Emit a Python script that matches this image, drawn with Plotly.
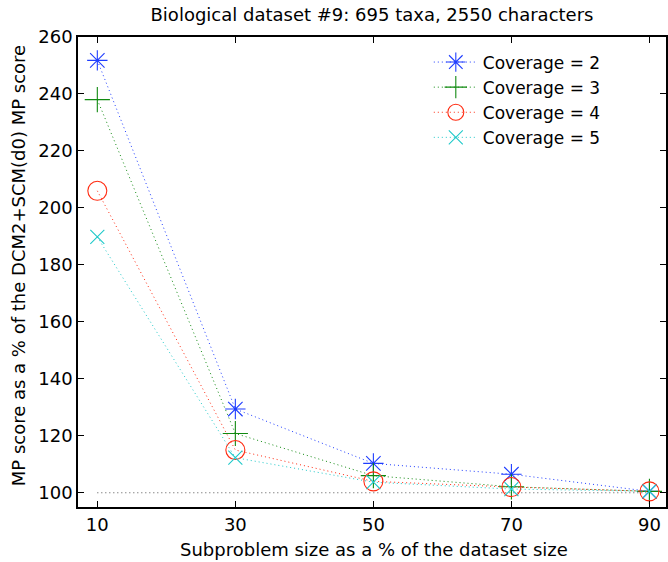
import plotly.graph_objects as go

# Subproblem sizes (% of dataset size)
subproblem_pct = [10, 30, 50, 70, 90]

# MP score relative to DCM2+SCM(d0), in percent, per coverage level
coverage_labels = ["Coverage = 2", "Coverage = 3", "Coverage = 4", "Coverage = 5"]
score_cov2 = [251.8, 129.4, 110.3, 106.5, 100.5]
score_cov3 = [238.0, 120.8, 106.0, 102.1, 100.5]
score_cov4 = [206.0, 115.0, 104.0, 102.0, 100.5]
score_cov5 = [189.8, 112.3, 103.7, 101.3, 100.5]
reference_level = [100, 100, 100, 100, 100]

y_ticks = [100, 120, 140, 160, 180, 200, 220, 240, 260]

series = [
    (score_cov2, "#1f3dff", "asterisk-open", 17),
    (score_cov3, "#118a11", "cross-thin-open", 18),
    (score_cov4, "#ff2a10", "circle-open", 19),
    (score_cov5, "#1fc9c9", "x-thin-open", 14),
]

FONT = "DejaVu Sans, Liberation Sans, Arial, sans-serif"
FS = 18

fig = go.Figure()

# dotted 100% reference line
fig.add_trace(go.Scatter(
    x=subproblem_pct, y=reference_level, mode="lines",
    line=dict(color="#555555", width=1, dash="1px,3px"),
    showlegend=False, hoverinfo="skip",
))

for (vals, color, symbol, size), name in zip(series, coverage_labels):
    fig.add_trace(go.Scatter(
        x=subproblem_pct, y=vals, mode="lines+markers", name=name,
        line=dict(color=color, width=1, dash="1px,3px"),
        marker=dict(symbol=symbol, size=size, color=color,
                    line=dict(color=color, width=1.1)),
        cliponaxis=False,
    ))

L, R, T, B = 78, 0, 37, 55
W, H = 668, 562
pw, ph = W - L - R, H - T - B

fig.update_layout(
    width=W, height=H,
    margin=dict(l=L, r=R, t=T, b=B),
    paper_bgcolor="white", plot_bgcolor="white",
    font=dict(family=FONT, size=FS, color="black"),
    title=dict(text="Biological dataset #9: 695 taxa, 2550 characters",
               x=372 / W, xref="container", xanchor="center",
               y=1 - 15 / H, yref="container", yanchor="middle",
               font=dict(family=FONT, size=FS, color="black")),
    showlegend=True,
    legend=dict(x=(430 - L) / pw, y=(H - B - 44.5) / ph, xanchor="left", yanchor="top",
                bgcolor="rgba(0,0,0,0)", borderwidth=0,
                font=dict(family=FONT, size=17, color="black"),
                tracegroupgap=0, itemwidth=44),
    xaxis=dict(range=[7.2, 92.4], tickvals=subproblem_pct,
               ticks="inside", ticklen=6, tickcolor="black",
               showline=True, linecolor="black", linewidth=1.5, mirror="ticks",
               showgrid=False, zeroline=False,
               tickfont=dict(family=FONT, size=FS, color="black"),
               ticklabelstandoff=1),
    yaxis=dict(range=[95, 260], tickvals=y_ticks,
               ticks="inside", ticklen=6, tickcolor="black",
               showline=True, linecolor="black", linewidth=1.5, mirror="ticks",
               showgrid=False, zeroline=False,
               tickfont=dict(family=FONT, size=FS, color="black"),
               ticklabelstandoff=0),
    annotations=[
        dict(text="Subproblem size as a % of the dataset size",
             xref="paper", yref="paper", x=(375 - L) / pw, y=-(549 - (H - B)) / ph,
             xanchor="center", yanchor="middle", showarrow=False,
             font=dict(family=FONT, size=FS, color="black")),
        dict(text="MP score as a % of the DCM2+SCM(d0) MP score",
             xref="paper", yref="paper", x=(18 - L) / pw, y=((H - B) - 266) / ph,
             xanchor="center", yanchor="middle", textangle=-90, showarrow=False,
             font=dict(family=FONT, size=FS, color="black")),
    ],
)

fig.write_html("out.html")
